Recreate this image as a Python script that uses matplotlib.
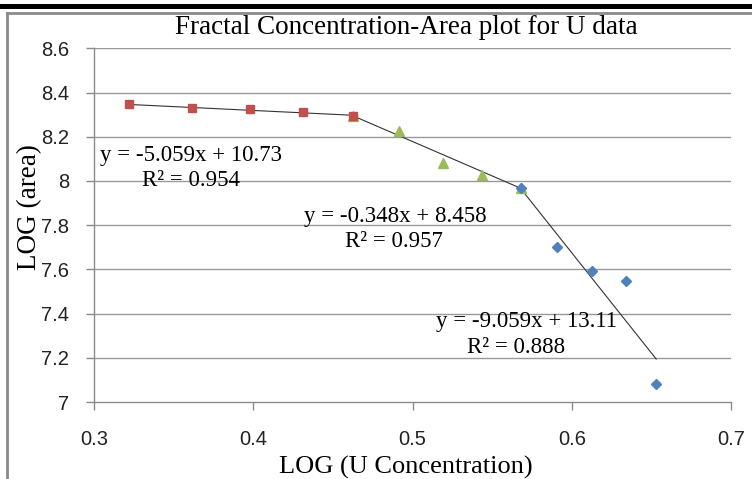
import numpy as np
import matplotlib
matplotlib.use("Agg")
import matplotlib.pyplot as plt
from matplotlib.patches import Rectangle
from matplotlib.lines import Line2D

# ---- data ----
red_x = [0.322, 0.3616, 0.398, 0.4313, 0.4623]
red_y = [8.347, 8.331, 8.325, 8.313, 8.295]
green_x = [0.4623, 0.4914, 0.5188, 0.5437, 0.568]
green_y = [8.295, 8.226, 8.080, 8.027, 7.969]
blue_x = [0.568, 0.5908, 0.6128, 0.6339, 0.653]
blue_y = [7.969, 7.700, 7.592, 7.548, 7.082]

# trend lines (slope, intercept) drawn over each group's x range
red_fit = (-0.348, 8.458)
green_fit = (-3.11, 9.733)
blue_fit = (-9.059, 13.11)

label_eq = ["y = -5.059x + 10.73", "y = -0.348x + 8.458", "y = -9.059x + 13.11"]
label_r2 = ["R\u00b2 = 0.954", "R\u00b2 = 0.957", "R\u00b2 = 0.888"]

xticks = [0.3, 0.4, 0.5, 0.6, 0.7]
xtick_labels = ["0.3", "0.4", "0.5", "0.6", "0.7"]
yticks = [7.0, 7.2, 7.4, 7.6, 7.8, 8.0, 8.2, 8.4, 8.6]
ytick_labels = ["7", "7.2", "7.4", "7.6", "7.8", "8", "8.2", "8.4", "8.6"]

title = "Fractal Concentration-Area plot for U data"
xlabel = "LOG (U Concentration)"
ylabel = "LOG (area)"

# ---- figure ----
W, H = 752, 479
fig = plt.figure(figsize=(W / 100, H / 100), dpi=100)

def fx(px):
    return px / W

def fy(py):
    return 1 - py / H

# page decorations: black band and gray frame
fig.patches.append(Rectangle((0, fy(9)), 1, (9 - 4) / H, transform=fig.transFigure,
                             facecolor="black", edgecolor="none"))
fig.add_artist(Line2D([fx(7), 1.0], [fy(13), fy(13)], color="#8a8a8a", lw=2.0,
                      transform=fig.transFigure))
fig.add_artist(Line2D([fx(7), fx(7)], [fy(13), 0], color="#8a8a8a", lw=2.0,
                      transform=fig.transFigure))

ax = fig.add_axes([fx(94.3), fy(402), fx(731) - fx(94.3), fy(48.3) - fy(402)])
ax.set_xlim(0.3, 0.7)
ax.set_ylim(7.0, 8.6)

serif = ["Liberation Serif", "DejaVu Serif"]
sans = ["Liberation Sans Narrow", "Liberation Sans", "DejaVu Sans"]

# grid
for yv in yticks[1:]:
    ax.axhline(yv, color="#999999", lw=1.0, zorder=0)

# trend lines
for xs, fit in ((red_x, red_fit), (green_x, green_fit), (blue_x, blue_fit)):
    xx = np.array([min(xs), max(xs)])
    ax.plot(xx, fit[0] * xx + fit[1], color="#333333", lw=0.8, zorder=2)

# markers
ax.plot(red_x, red_y, ls="none", marker="s", ms=5.5, color="#C0504D", zorder=3)
ax.plot(green_x, green_y, ls="none", marker="^", ms=6.5, color="#9BBB59", zorder=2.5)
ax.plot(blue_x, blue_y, ls="none", marker="D", ms=4.8, color="#4F81BD", zorder=3)

# equation labels
eq_pos = [(0.3608, 8.117), (0.4889, 7.837), (0.5718, 7.362)]
r2_pos = [(0.3608, 8.000), (0.4883, 7.728), (0.5649, 7.248)]
for t, p in zip(label_eq, eq_pos):
    ax.text(p[0], p[1], t, ha="center", va="center", fontsize=16.5, family=serif,
            color="black", zorder=4)
for t, p in zip(label_r2, r2_pos):
    ax.text(p[0], p[1], t, ha="center", va="center", fontsize=16.5, family=serif,
            color="black", zorder=4)

# spines & ticks
for s in ("top", "right"):
    ax.spines[s].set_visible(False)
for s in ("left", "bottom"):
    ax.spines[s].set_color("#8a8a8a")
    ax.spines[s].set_linewidth(1.0)
ax.set_xticks(xticks)
ax.set_xticklabels(xtick_labels, family=sans, fontsize=14.5, color="#222222")
ax.set_yticks(yticks)
ax.set_yticklabels(ytick_labels, family=sans, fontsize=14.5, color="#222222")
ax.tick_params(axis="both", direction="out", length=6, width=1.0, color="#8a8a8a")
ax.tick_params(axis="x", pad=14)
ax.tick_params(axis="y", pad=12)

fig.text(fx(406), fy(27), title, ha="center", va="center", fontsize=19.5, family=serif)
fig.text(fx(406), fy(467), xlabel, ha="center", va="center", fontsize=19, family=serif)
fig.text(fx(30), fy(207), ylabel, ha="center", va="center", fontsize=19.5, family=serif,
         rotation=90)

fig.savefig("out.png", dpi=100, facecolor="white")
